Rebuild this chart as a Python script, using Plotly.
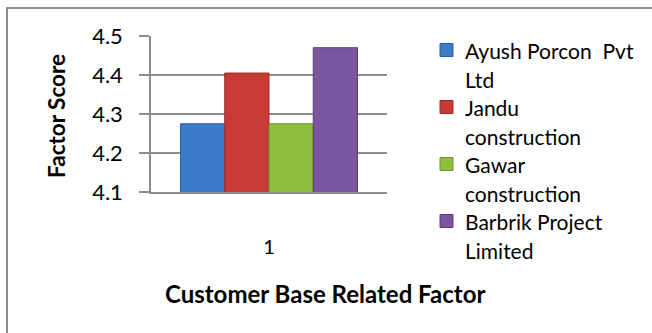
import plotly.graph_objects as go

categories = ["1"]
names = ["Ayush Porcon  Pvt\nLtd", "Jandu\nconstruction", "Gawar\nconstruction", "Barbrik Project\nLimited"]
values = [4.275, 4.405, 4.275, 4.47]
colors = ["#3A7CC8", "#C93A36", "#8DBE3E", "#7B55A0"]
edge_colors = ["#2A5E9C", "#9A2A27", "#6A9530", "#5C3F7A"]
y_ticks = [4.1, 4.2, 4.3, 4.4, 4.5]
x_title = "Customer Base Related Factor"
y_title = "Factor Score"

W, H = 652, 333
L, R, T, B = 151, 265, 36, 141
pw, ph = W - L - R, H - T - B

def px_x(x):
    return (x - L) / pw

def px_y(y):
    return (H - B - y) / ph

FONT = "Lato, Calibri, Carlito, sans-serif"

fig = go.Figure()
for n, v, c, e in zip(names, values, colors, edge_colors):
    fig.add_trace(go.Bar(
        x=categories, y=[v], name=n.replace("\n", " "),
        marker=dict(color=c, line=dict(color=e, width=1)),
        showlegend=False,
    ))

annotations = []
shapes = []
# custom legend matching the wrapped two-line entries
for i, (n, c) in enumerate(zip(names, colors)):
    y0 = 50 + i * 57
    shapes.append(dict(type="rect", xref="paper", yref="paper",
                       x0=px_x(440), x1=px_x(453), y0=px_y(y0 - 6.5), y1=px_y(y0 + 6.5),
                       fillcolor=c, line=dict(color=edge_colors[i], width=1)))
    for j, line in enumerate(n.split("\n")):
        annotations.append(dict(text=line, xref="paper", yref="paper",
                                x=px_x(463), y=px_y(y0 + j * 29.5), xanchor="left", yanchor="middle",
                                showarrow=False, font=dict(family=FONT, size=21, color="#000")))

annotations.append(dict(text="<b>%s</b>" % x_title, xref="paper", yref="paper",
                        x=px_x(325), y=px_y(293), xanchor="center", yanchor="middle",
                        showarrow=False, font=dict(family=FONT, size=24, color="#000")))
annotations.append(dict(text="<b>%s</b>" % y_title, xref="paper", yref="paper",
                        x=px_x(56), y=px_y(116), xanchor="center", yanchor="middle", textangle=-90,
                        showarrow=False, font=dict(family=FONT, size=22.5, color="#000")))

# outer chart border
shapes.append(dict(type="rect", xref="paper", yref="paper",
                   x0=px_x(7), x1=px_x(W + 20), y0=px_y(H + 20), y1=px_y(8),
                   line=dict(color="#8C8C8C", width=2), fillcolor="rgba(0,0,0,0)", layer="below"))

fig.update_layout(
    width=W, height=H,
    margin=dict(l=L, r=R, t=T, b=B, pad=0),
    paper_bgcolor="white", plot_bgcolor="white",
    barmode="group", bargap=0.25, bargroupgap=0,
    font=dict(family=FONT, color="#000"),
    annotations=annotations, shapes=shapes,
    xaxis=dict(type="category", showgrid=False, showline=True, linecolor="#8C8C8C", linewidth=1.5,
               ticks="", tickfont=dict(size=20), ticklabelstandoff=36),
    yaxis=dict(range=[4.1, 4.5], tickvals=y_ticks, ticktext=["%.1f" % t for t in y_ticks],
               showgrid=True, gridcolor="#8C8C8C", gridwidth=1.5,
               showline=True, linecolor="#8C8C8C", linewidth=1.5,
               ticks="outside", ticklen=10, tickcolor="#8C8C8C", tickwidth=1.5,
               tickfont=dict(size=22), ticklabelstandoff=12, zeroline=False),
)

fig.write_html("out.html")
